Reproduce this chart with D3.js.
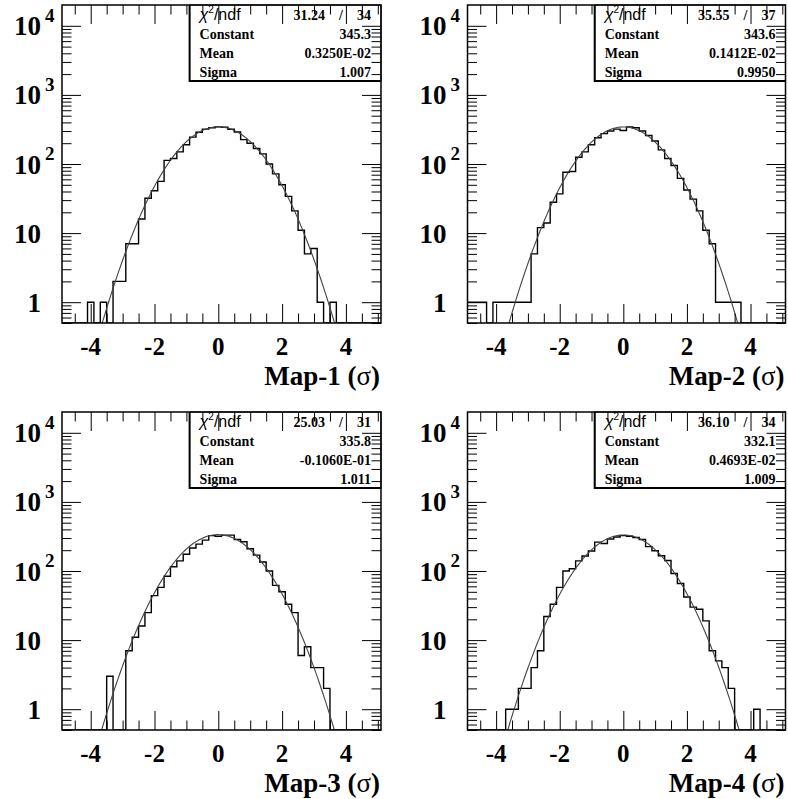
<!DOCTYPE html>
<html>
<head>
<meta charset="utf-8">
<script src="https://cdn.jsdelivr.net/npm/d3@7"></script>
<style>
  body { margin: 0; background: #fff; }
  svg { display: block; }
</style>
</head>
<body>
<svg id="chart" width="788" height="799"></svg>
<script>
// Histogram bins: 50 bins of width 0.2 over [-4.9, 5.1]
const binCenters = [-4.8,-4.6,-4.4,-4.2,-4.0,-3.8,-3.6,-3.4,-3.2,-3.0,
                    -2.8,-2.6,-2.4,-2.2,-2.0,-1.8,-1.6,-1.4,-1.2,-1.0,
                    -0.8,-0.6,-0.4,-0.2, 0.0, 0.2, 0.4, 0.6, 0.8, 1.0,
                     1.2, 1.4, 1.6, 1.8, 2.0, 2.2, 2.4, 2.6, 2.8, 3.0,
                     3.2, 3.4, 3.6, 3.8, 4.0, 4.2, 4.4, 4.6, 4.8, 5.0];
const binWidth = 0.2;
const xDomain = [-4.9, 5.1];
const yDomain = [0.5, 2e4];

// Entries per bin for each map
const map1Counts = [0,0,0,0,1,0,1,0,2,2,
                    7,7,16,32,41,56,113,120,150,190,
                    245,288,320,335,345,340,318,290,225,200,
                    168,140,100,72,50,34,21,11,5,6,
                    1,0,1,0,0,0,0,0,0,0];
const map2Counts = [1,1,1,0,1,1,1,1,1,1,
                    5,12,14,28,37,76,78,125,150,190,
                    240,275,300,320,305,345,335,300,258,215,
                    160,120,95,62,42,31,21,11,7,1,
                    1,1,1,0,0,0,0,0,0,0];
const map3Counts = [0,0,0,0,0,0,0,3,0,0,
                    7,11,16,25,44,58,84,115,140,175,
                    215,245,280,325,318,330,330,285,265,210,
                    170,135,100,62,50,33,25,6,8,4,
                    4,2,0,0,0,0,0,0,0,0];
const map4Counts = [0,0,0,0,0,0,1,1,2,2,
                    4,7,22,33,58,100,108,140,165,195,
                    262,250,290,310,325,318,305,285,225,196,
                    166,142,92,66,42,30,28,19,7,5,
                    4,2,0,0,0,1,0,0,0,0];

// Gaussian fit results
const mapNames     = ["Map-1", "Map-2", "Map-3", "Map-4"];
const fitChi2      = ["31.24", "35.55", "25.03", "36.10"];
const fitNdf       = ["34", "37", "31", "34"];
const fitConstant  = [345.3, 343.6, 335.8, 332.1];
const fitMean      = [0.3250e-2, 0.1412e-2, -0.1060e-1, 0.4693e-2];
const fitSigma     = [1.007, 0.9950, 1.011, 1.009];
const constantText = ["345.3", "343.6", "335.8", "332.1"];
const meanText     = ["0.3250E-02", "0.1412E-02", "-0.1060E-01", "0.4693E-02"];
const sigmaText    = ["1.007", "0.9950", "1.011", "1.009"];

// Axis ticks
const xMajorTicks = [-4, -2, 0, 2, 4];
const xMinorTicks = [-4.5, -3.5, -3, -2.5, -1.5, -1, -0.5, 0.5, 1, 1.5, 2.5, 3, 3.5, 4.5, 5];
const yMajorTicks = [1, 10, 100, 1000, 10000];
const yMajorLabels = [{base: "1", exp: ""}, {base: "10", exp: ""}, {base: "10", exp: "2"},
                      {base: "10", exp: "3"}, {base: "10", exp: "4"}];
const yMinorTicks = [0.5,0.6,0.7,0.8,0.9, 2,3,4,5,6,7,8,9, 20,30,40,50,60,70,80,90,
                     200,300,400,500,600,700,800,900, 2000,3000,4000,5000,6000,7000,8000,9000];

const allCounts = [map1Counts, map2Counts, map3Counts, map4Counts];

// Pad frames (pixel layout of the 2x2 canvas)
const frames = [
  {x0: 62,    x1: 381,   y0: 5,   y1: 323},
  {x0: 467.5, x1: 785.5, y0: 5,   y1: 323},
  {x0: 62,    x1: 381,   y0: 412, y1: 730},
  {x0: 467.5, x1: 785.5, y0: 412, y1: 730}
];

const SERIF = "'Liberation Serif', 'Times New Roman', Times, serif";
const SANS  = "'Liberation Sans', Arial, Helvetica, sans-serif";
const MAJOR = 19, MINOR = 9.5;

const svg = d3.select("#chart");
svg.append("rect").attr("width", 788).attr("height", 799).attr("fill", "#fff");
const defs = svg.append("defs");

frames.forEach((f, p) => {
  const counts = allCounts[p];
  const x = d3.scaleLinear().domain(xDomain).range([f.x0, f.x1]);
  const y = d3.scaleLog().domain(yDomain).range([f.y1, f.y0]);
  const g = svg.append("g");

  defs.append("clipPath").attr("id", "pad" + p)
    .append("rect").attr("x", f.x0).attr("y", f.y0)
    .attr("width", f.x1 - f.x0).attr("height", f.y1 - f.y0);

  // Histogram outline (empty bins drop to the frame bottom)
  let d = "";
  counts.forEach((c, i) => {
    const lo = x(binCenters[i] - binWidth / 2);
    const hi = x(binCenters[i] + binWidth / 2);
    const yy = c > 0 ? y(c) : f.y1;
    d += (i === 0 ? `M${lo},${yy}` : `V${yy}`) + `H${hi}`;
  });
  g.append("path").attr("d", d)
    .attr("fill", "none").attr("stroke", "#000").attr("stroke-width", 1.4)
    .attr("clip-path", `url(#pad${p})`);

  // Gaussian fit curve
  const C = fitConstant[p], m = fitMean[p], s = fitSigma[p];
  const gauss = v => C * Math.exp(-0.5 * ((v - m) / s) ** 2);
  const samples = d3.range(xDomain[0], xDomain[1] + 1e-9, 0.05)
    .filter(v => gauss(v) > 0.05);
  g.append("path")
    .datum(samples)
    .attr("d", d3.line().x(v => x(v)).y(v => y(gauss(v))))
    .attr("fill", "none").attr("stroke", "#444").attr("stroke-width", 1.1)
    .attr("clip-path", `url(#pad${p})`);

  // Statistics box
  const bx = f.x0 + 0.4 * (f.x1 - f.x0), by = f.y0, bw = f.x1 - bx, bh = 76;
  g.append("rect").attr("x", bx).attr("y", by).attr("width", bw).attr("height", bh)
    .attr("fill", "#fff").attr("stroke", "#000").attr("stroke-width", 1);
  g.append("line").attr("x1", bx).attr("x2", bx).attr("y1", by).attr("y2", by + bh + 1)
    .attr("stroke", "#000").attr("stroke-width", 2);
  g.append("line").attr("x1", bx).attr("x2", f.x1).attr("y1", by + bh).attr("y2", by + bh)
    .attr("stroke", "#000").attr("stroke-width", 2);

  const rowY = i => by + 15 + 19 * i;
  const lx = bx + 10, rx = f.x1 - 10;
  const chi = g.append("text").attr("x", lx).attr("y", rowY(0))
    .attr("font-family", SANS).attr("font-size", 16);
  chi.append("tspan").attr("font-style", "italic").text("χ");
  chi.append("tspan").attr("font-size", 10).attr("dy", -7).text("2");
  chi.append("tspan").attr("dy", 7).text("/ndf");
  g.append("text").attr("x", f.x1 - 56).attr("y", rowY(0)).attr("text-anchor", "end")
    .attr("font-family", SERIF).attr("font-weight", "bold").attr("font-size", 14).text(fitChi2[p]);
  g.append("text").attr("x", f.x1 - 40).attr("y", rowY(0)).attr("text-anchor", "middle")
    .attr("font-family", SERIF).attr("font-weight", "bold").attr("font-size", 14).text("/");
  g.append("text").attr("x", rx).attr("y", rowY(0)).attr("text-anchor", "end")
    .attr("font-family", SERIF).attr("font-weight", "bold").attr("font-size", 14).text(fitNdf[p]);

  const rows = [["Constant", constantText[p]], ["Mean", meanText[p]], ["Sigma", sigmaText[p]]];
  rows.forEach((r, i) => {
    g.append("text").attr("x", lx).attr("y", rowY(i + 1))
      .attr("font-family", SERIF).attr("font-weight", "bold").attr("font-size", 14).text(r[0]);
    g.append("text").attr("x", rx).attr("y", rowY(i + 1)).attr("text-anchor", "end")
      .attr("font-family", SERIF).attr("font-weight", "bold").attr("font-size", 14).text(r[1]);
  });

  // Frame
  g.append("rect").attr("x", f.x0).attr("y", f.y0)
    .attr("width", f.x1 - f.x0).attr("height", f.y1 - f.y0)
    .attr("fill", "none").attr("stroke", "#000").attr("stroke-width", 1.5);

  // Ticks on all four sides
  const addAxis = (axis, tx, ty) => {
    const a = g.append("g").attr("transform", `translate(${tx},${ty})`).call(axis);
    a.select(".domain").remove();
    a.selectAll("text").remove();
    a.selectAll("line").attr("stroke", "#000").attr("stroke-width", 1);
  };
  addAxis(d3.axisBottom(x).tickValues(xMajorTicks).tickSize(-MAJOR), 0, f.y1);
  addAxis(d3.axisBottom(x).tickValues(xMinorTicks).tickSize(-MINOR), 0, f.y1);
  addAxis(d3.axisTop(x).tickValues(xMajorTicks).tickSize(-MAJOR), 0, f.y0);
  addAxis(d3.axisTop(x).tickValues(xMinorTicks).tickSize(-MINOR), 0, f.y0);
  addAxis(d3.axisLeft(y).tickValues(yMajorTicks).tickSize(-MAJOR), f.x0, 0);
  addAxis(d3.axisLeft(y).tickValues(yMinorTicks).tickSize(-MINOR), f.x0, 0);
  addAxis(d3.axisRight(y).tickValues(yMajorTicks).tickSize(-MAJOR), f.x1, 0);
  addAxis(d3.axisRight(y).tickValues(yMinorTicks).tickSize(-MINOR), f.x1, 0);

  // X tick labels
  xMajorTicks.forEach(v => {
    g.append("text").attr("x", x(v)).attr("y", f.y1 + 32).attr("text-anchor", "middle")
      .attr("font-family", SERIF).attr("font-weight", "bold").attr("font-size", 25)
      .text(v < 0 ? "-" + Math.abs(v) : String(v));
  });

  // Y tick labels (powers of ten)
  yMajorTicks.forEach((v, i) => {
    const lab = yMajorLabels[i];
    g.append("text").attr("x", f.x0 - 21).attr("y", y(v) + 9.5).attr("text-anchor", "end")
      .attr("font-family", SERIF).attr("font-weight", "bold").attr("font-size", 27)
      .text(lab.base);
    if (lab.exp) {
      g.append("text").attr("x", f.x0 - 17).attr("y", y(v) - 4)
        .attr("font-family", SERIF).attr("font-weight", "bold").attr("font-size", 19)
        .text(lab.exp);
    }
  });

  // Axis title
  const t = g.append("text").attr("x", f.x1 - 1).attr("y", f.y1 + 62).attr("text-anchor", "end")
    .attr("font-family", SERIF).attr("font-weight", "bold").attr("font-size", 27);
  t.append("tspan").text(mapNames[p] + " (");
  t.append("tspan").attr("font-weight", "normal").text("σ");
  t.append("tspan").text(")");
});
</script>
</body>
</html>
